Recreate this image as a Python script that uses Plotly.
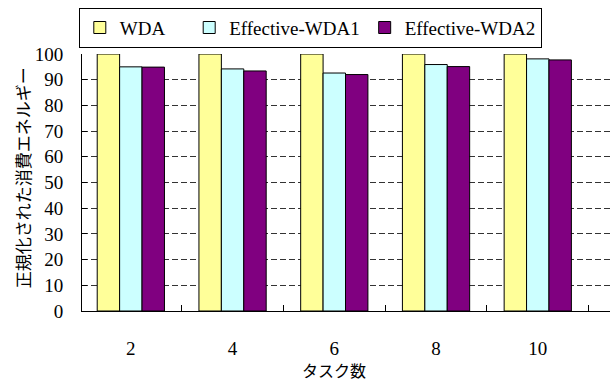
import plotly.graph_objects as go

categories = ["2", "4", "6", "8", "10"]
wda = [100, 100, 100, 100, 100]
eff_wda1 = [95.0, 94.2, 92.6, 95.9, 98.1]
eff_wda2 = [94.9, 93.4, 92.0, 95.1, 97.7]
series_names = ["WDA\u00a0\u00a0\u00a0\u00a0", "Effective-WDA1", "Effective-WDA2"]
y_ticks = list(range(0, 101, 10))

colors = ["#FFFF99", "#CCFFFF", "#800080"]
serif = "Liberation Serif, Times New Roman, DejaVu Serif, serif"
cjk = "Noto Sans CJK JP"

fig = go.Figure()
for name, vals, col in zip(series_names, [wda, eff_wda1, eff_wda2], colors):
    fig.add_trace(go.Bar(
        x=categories, y=vals, name=name,
        marker=dict(color=col, line=dict(color="black", width=1)),
    ))

W, H = 610, 382
ml, mr, mt, mb = 81.5, 0, 53.7, 71
pw = W - ml - mr
ph = H - mt - mb

fig.update_layout(
    width=W, height=H,
    margin=dict(l=ml, r=mr, t=mt, b=mb, pad=0),
    paper_bgcolor="white", plot_bgcolor="white",
    barmode="group", bargap=0.339, bargroupgap=0,
    font=dict(family=serif, size=19, color="black"),
    showlegend=True,
    legend=dict(
        orientation="h", x=(78.3 - ml) / pw, xanchor="left",
        y=(H - mb - 7.3) / ph, yanchor="top",
        bordercolor="black", borderwidth=1, bgcolor="white",
        font=dict(family=serif, size=19, color="black"),
        traceorder="normal", tracegroupgap=0,
    ),
    xaxis=dict(
        type="category", range=[-0.48, 4.71],
        showline=True, linecolor="black", linewidth=1,
        ticks="inside", ticklen=6, tickcolor="black", tickson="boundaries",
        ticklabelstandoff=20,
        showgrid=False, tickfont=dict(family=serif, size=19),
    ),
    yaxis=dict(
        range=[0, 100], tickvals=y_ticks,
        showline=True, linecolor="black", linewidth=1,
        ticks="inside", ticklen=5, tickcolor="black",
        showgrid=True, gridcolor="#333333", gridwidth=1, griddash="6px,3px",
        ticklabelstandoff=14, zeroline=False,
        tickfont=dict(family=serif, size=19),
    ),
    annotations=[
        dict(text="正規化された消費エネルギー", xref="paper", yref="paper",
             x=(22 - ml) / pw, y=(H - mb - 177.5) / ph, xanchor="center", yanchor="middle",
             textangle=-90, showarrow=False, font=dict(family=cjk, size=17, color="black")),
        dict(text="タスク数", xref="paper", yref="paper",
             x=(334 - ml) / pw, y=(H - mb - 370) / ph, xanchor="center", yanchor="middle",
             showarrow=False, font=dict(family=cjk, size=16, color="black")),
    ],
)

fig.write_html("out.html",
               config={"displayModeBar": False},
               post_script="document.body.style.margin='0';document.body.style.padding='0';")
